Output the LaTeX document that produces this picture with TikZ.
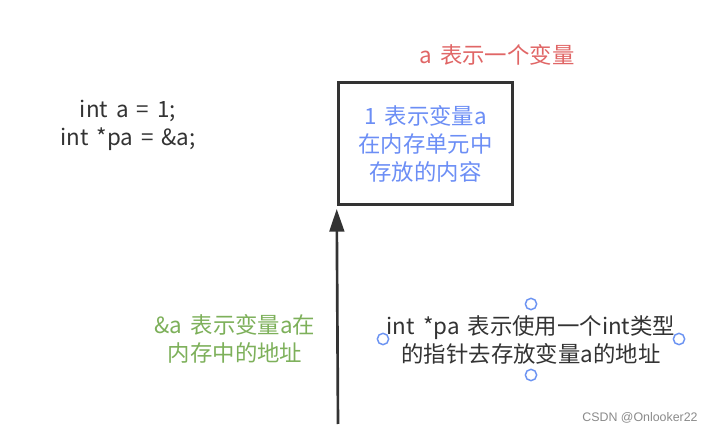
\documentclass[tikz,border=0pt]{standalone}
\usepackage{fontspec}
\setmainfont{Noto Sans CJK SC}[WordSpace=1.6]
\newfontfamily\markfont{Liberation Sans}
\usepackage{xcolor}
\usetikzlibrary{arrows.meta}
\definecolor{inkdark}{HTML}{333333}
\definecolor{inkred}{HTML}{E06666}
\definecolor{inkblue}{HTML}{6C8EF5}
\definecolor{inkgreen}{HTML}{7DB05A}
\definecolor{handleblue}{HTML}{6B93F2}
\definecolor{markgray}{HTML}{8A8A8A}

\begin{document}
\begin{tikzpicture}[x=0.75pt,y=-0.75pt]
% Stili
\tikzstyle{label} = [
    align=center,
    inner sep=0pt,
    font=\fontsize{16.8}{21}\selectfont
]

\tikzstyle{cell} = [
    rectangle,
    draw=inkdark,
    line width=2.2pt,
    minimum width=131pt,
    minimum height=92pt,
    align=center,
    font=\fontsize{16.8}{21}\selectfont
]

\tikzstyle{handle} = [
    circle,
    draw=handleblue,
    line width=1.1pt,
    fill=white,
    minimum size=8.5pt,
    inner sep=0pt
]

\useasboundingbox (0,0) rectangle (711,438);

% Nodi
\node[label, text=inkdark] (code) at (128,125)
{int a = 1;\\int *pa = \&a;};

\node[label, text=inkred] (var) at (497,55)
{a 表示一个变量};

\node[cell, text=inkblue] (box) at (425.5,143.5)
{1 表示变量a\\在内存单元中\\存放的内容};

\node[label, text=inkgreen] (addr) at (235,339)
{\&a 表示变量a在\\内存中的地址};

\node[label, text=inkdark] (ptr) at (531,339.5)
{int *pa 表示使用一个int类型\\的指针去存放变量a的地址};

\node[handle] (h1) at (531,304) {};
\node[handle] (h2) at (531,375) {};
\node[handle] (h3) at (383,339) {};
\node[handle] (h4) at (679,339) {};

\node[text=markgray, font=\markfont\fontsize{9.3}{11}\selectfont, inner sep=0pt] (mark) at (640,418)
{CSDN @Onlooker22};

\coordinate (base) at (338,424);

% Archi
\draw[-{Triangle[length=17pt,width=11pt]}, line width=2pt, draw=inkdark, shorten >=2pt] (base) -- (box.south west);

\end{tikzpicture}
\end{document}
